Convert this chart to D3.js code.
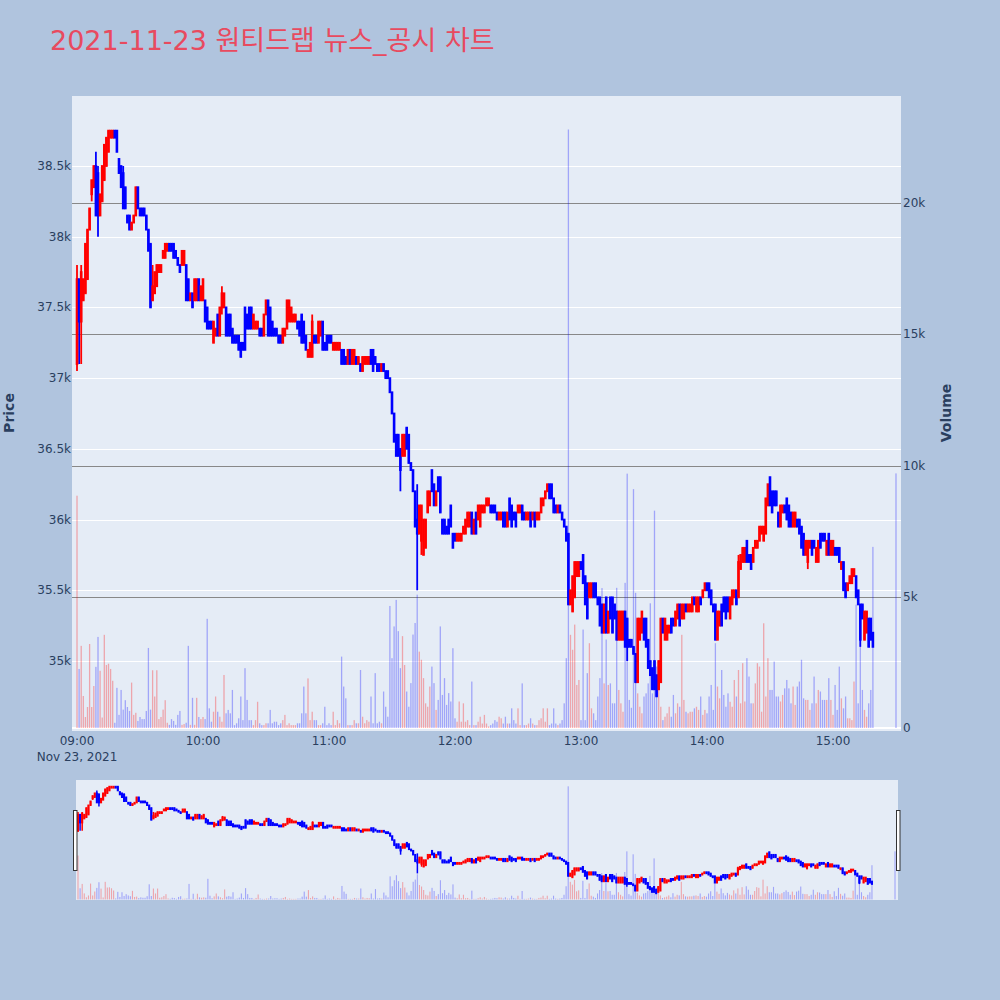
<!DOCTYPE html>
<html><head><meta charset="utf-8">
<script src="https://cdn.jsdelivr.net/npm/d3@7"></script>
<style>
body{margin:0;background:#b0c4de;}
svg{display:block;font-family:"DejaVu Sans","Noto Sans CJK KR",sans-serif;}
</style>
</head><body>
<svg id="chart" width="1000" height="1000"></svg>
<script>
// ---------- data (1-minute candles 09:00 .. 15:19, then 15:30 closing auction) ----------
const chartTitle = "2021-11-23 원티드랩 뉴스_공시 차트";
const tradeDay = "2021-11-23";
const firstMinute = "09:00";
const auctionMinute = "15:30";

const opens = [
37100,37700,37400,37550,37600,37700,38050,38300,38350,38500,
38450,38150,38250,38400,38500,38600,38700,38700,38750,38750,
38550,38500,38450,38350,38150,38150,38050,38100,38150,38350,
38200,38200,38200,38150,38050,37950,37550,37600,37650,37750,
37750,37850,37850,37900,37950,37950,37950,37900,37850,37800,
37800,37800,37800,37700,37550,37600,37550,37550,37700,37550,
37550,37550,37500,37400,37400,37250,37300,37450,37300,37500,
37500,37500,37450,37450,37350,37300,37300,37300,37250,37250,
37500,37450,37500,37500,37350,37350,37350,37350,37350,37300,
37450,37550,37500,37400,37350,37350,37300,37300,37250,37300,
37350,37400,37400,37400,37400,37400,37400,37450,37400,37300,
37150,37150,37150,37300,37300,37250,37300,37400,37250,37300,
37300,37300,37200,37200,37200,37200,37200,37200,37150,37100,
37200,37100,37100,37150,37100,37100,37050,37100,37100,37100,
37200,37200,37150,37100,37100,37050,37100,37050,37050,37000,
36900,36750,36600,36600,36500,36450,36450,36650,36600,36400,
36350,36200,36000,35900,35850,35750,35800,36050,36100,36350,
36250,36100,36300,36300,36000,36000,35950,36000,36100,35900,
35900,35850,35850,35850,35900,35900,35950,35950,36050,35900,
36050,36000,35950,36050,36050,36100,36100,36100,36100,36100,
36050,36000,36000,36050,36050,35950,36150,36100,36050,36050,
36050,36050,36100,36050,36000,36000,36050,36000,36050,36000,
36000,36050,36100,36150,36200,36250,36250,36150,36100,36050,
36100,36050,36000,35950,35900,35400,35350,35450,35600,35600,
35700,35750,35600,35550,35450,35450,35550,35550,35450,35450,
35400,35200,35450,35200,35450,35450,35400,35350,35150,35150,
35150,35350,35300,35150,35150,35100,35050,34850,35150,35200,
35300,35300,35150,35000,34950,35000,34900,34800,34850,35300,
35150,35150,35200,35300,35300,35250,35300,35400,35300,35300,
35400,35350,35350,35350,35450,35350,35350,35450,35450,35500,
35550,35550,35500,35400,35400,35150,35250,35400,35450,35450,
35450,35300,35400,35450,35500,35450,35650,35700,35700,35850,
35750,35750,35700,35800,35800,35850,35900,35850,35900,36100,
36300,36200,36200,36200,36050,35950,36050,36100,36150,36100,
36050,35950,35950,36000,36000,35950,35900,35750,35700,35800,
35850,35850,35700,35700,35900,35900,35900,35750,35900,35750,
35750,35800,35800,35800,35650,35700,35550,35500,35550,35550,
35600,35600,35500,35400,35400,35150,35200,35300,35300,35200,
35050];

const closes = [
37700,37400,37750,37700,37950,38050,38200,38400,38500,38150,
38150,38300,38500,38650,38700,38750,38750,38750,38700,38600,
38450,38350,38200,38200,38100,38050,38100,38150,38350,38200,
38150,38150,38150,38050,37900,37500,37650,37750,37800,37800,
37800,37900,37950,37950,37900,37900,37850,37850,37800,37750,
37900,37900,37550,37550,37600,37500,37700,37700,37550,37650,
37700,37400,37350,37350,37350,37400,37350,37300,37500,37600,
37600,37300,37300,37300,37250,37250,37250,37200,37150,37200,
37200,37350,37350,37350,37450,37400,37400,37300,37300,37450,
37550,37300,37300,37300,37300,37300,37250,37250,37350,37350,
37550,37550,37500,37450,37450,37350,37300,37250,37250,37200,
37200,37250,37400,37250,37250,37400,37400,37200,37200,37200,
37250,37250,37250,37250,37250,37250,37100,37100,37100,37200,
37100,37200,37200,37100,37150,37050,37150,37150,37150,37150,
37100,37050,37100,37050,37050,37100,37050,37000,37000,36900,
36750,36550,36450,36450,36350,36600,36600,36500,36400,36350,
36200,35950,35900,36100,36100,36000,36000,36200,36200,36200,
36100,36200,36200,36050,35900,35900,35900,35900,35950,35800,
35850,35900,35900,35900,35950,36000,36050,36050,35900,36000,
35900,36100,36100,36100,36100,36150,36150,36050,36050,36050,
36000,36050,36050,35950,35950,36050,36000,35950,36000,35950,
36100,36100,36000,36000,36050,36050,35950,36050,35950,36050,
36050,36150,36150,36200,36250,36150,36150,36050,36050,36100,
36050,36000,35950,35850,35400,35500,35600,35700,35700,35700,
35650,35550,35400,35300,35550,35550,35450,35450,35400,35250,
35200,35400,35200,35350,35300,35200,35300,35150,35350,35350,
35350,35100,35100,35100,35100,35050,34850,35300,35300,35350,
35150,35100,34950,34900,34800,34800,34750,35000,35300,35200,
35300,35250,35250,35200,35250,35350,35400,35250,35400,35400,
35350,35400,35400,35450,35400,35450,35450,35400,35500,35550,
35500,35450,35400,35350,35150,35350,35350,35250,35350,35300,
35350,35450,35500,35500,35400,35700,35750,35800,35800,35700,
35700,35650,35800,35850,35850,35950,35950,35950,36150,36250,
36100,36050,36100,36100,35950,36100,36100,36050,36000,35950,
35950,36050,36050,35950,35900,35800,35750,35850,35850,35850,
35750,35800,35800,35850,35800,35850,35850,35850,35750,35850,
35850,35750,35750,35700,35700,35500,35450,35550,35600,35650,
35650,35450,35400,35150,35300,35350,35350,35100,35150,35100,
35050];

// wicks that reach beyond the candle body: [candle index, price]
const wickHighs = [[0,37800],[2,37800],[9,38600],[10,38500],[22,38500],[36,37800],
  [69,37650],[112,37450],[162,36250],[315,35750]];
const wickLows = [[0,37050],[1,37100],[2,37100],[7,38250],[10,38000],[69,37450],
  [154,36200],[162,35500],[164,35750],[262,35000],[348,35650],[373,35100]];

const volumes = [
8850,2250,3130,1220,420,800,3200,800,1600,2330,
3470,2180,400,3550,2400,2450,2250,1800,200,1530,
500,1450,700,1060,800,650,1730,500,580,270,
420,340,340,650,3050,700,2200,1200,2200,340,
420,700,1060,200,120,340,270,120,500,650,
120,150,200,3130,120,1150,120,1150,420,340,
420,340,4160,750,240,620,1200,620,430,240,
2020,560,690,560,1450,110,180,370,1200,300,
2280,1070,300,300,110,300,1000,180,110,110,
180,180,690,180,240,240,110,180,300,500,
110,180,110,110,110,180,180,560,1580,560,
1890,300,620,300,300,110,110,180,810,110,
180,110,620,110,300,180,2720,1580,1130,110,
110,110,300,180,180,2210,430,180,300,240,
1200,180,2090,180,240,180,1390,810,430,4650,
2660,3870,4880,3690,2280,3500,2400,1390,810,1710,
3560,4000,5080,2910,2600,1900,940,810,1580,2340,
1710,690,1070,3870,1260,1900,880,1330,1010,3040,
370,240,1010,240,940,240,300,110,1770,110,
110,240,430,170,500,170,60,110,170,300,
240,430,370,170,430,170,170,750,300,170,
750,110,1700,110,110,170,370,170,110,110,
300,370,750,240,750,110,170,750,170,110,
170,300,940,2660,22800,3550,2980,3940,1640,1830,
300,3750,300,2090,3230,750,560,300,1200,1900,
5330,1700,3370,1640,1700,940,940,5340,1450,940,
620,5530,9690,1070,770,9100,5150,1320,810,560,
1200,1320,1700,4750,1320,8280,2340,1580,810,300,
430,560,810,430,1260,560,940,810,3550,1070,
620,560,620,620,750,810,690,1200,500,690,
560,1200,1640,690,3230,1580,1130,2210,1260,810,
1320,1000,810,1830,1200,2210,940,2470,1010,2660,
1960,940,940,1700,2470,2340,620,3990,1200,2660,
1450,1450,2530,1200,1200,1010,1260,1510,1830,1510,
940,1580,880,1580,1770,2600,1130,1070,1070,690,
940,1960,940,1450,1390,1070,1070,1070,1900,1070,
500,1640,690,2340,1130,750,1200,370,370,300,
1770,4700,940,4100,1450,690,430,940,1450,6900,
9700];

const priceTicks = [35000,35500,36000,36500,37000,37500,38000,38500];
const priceTickLabels = ["35k","35.5k","36k","36.5k","37k","37.5k","38k","38.5k"];
const volumeTicks = [0,5000,10000,15000,20000];
const volumeTickLabels = ["0","5k","10k","15k","20k"];
const timeTicks = ["09:00","10:00","11:00","12:00","13:00","14:00","15:00"];
const dateLabel = "Nov 23, 2021";
const priceRange = [34505, 38995];
const volumeRange = [-114, 24076];
const timeRange = ["08:57:37","15:32:23"];

// ---------- build records ----------
const parseM = d3.timeParse("%Y-%m-%d %H:%M");
const parseS = d3.timeParse("%Y-%m-%d %H:%M:%S");
const start = parseM(tradeDay + " " + firstMinute);
const hiMap = new Map(wickHighs), loMap = new Map(wickLows);
const candles = closes.map((c, i) => {
  const o = opens[i];
  const t = i < closes.length - 1 ? d3.timeMinute.offset(start, i) : parseM(tradeDay + " " + auctionMinute);
  return {t, o, c, h: hiMap.has(i) ? hiMap.get(i) : Math.max(o, c),
          l: loMap.has(i) ? loMap.get(i) : Math.min(o, c), v: volumes[i], up: c > o};
});

const UP = "#ff0000", DOWN = "#0000ff", TXT = "#2a3f5f";
const svg = d3.select("#chart");
svg.append("rect").attr("width",1000).attr("height",1000).attr("fill","#b0c4de");

const P = {l:72, r:901, t:96, b:731};
const xDom = timeRange.map(s => parseS(tradeDay + " " + s));
const x = d3.scaleTime().domain(xDom).range([P.l, P.r]);
const yP = d3.scaleLinear().domain(priceRange).range([P.b, P.t]);
const yV = d3.scaleLinear().domain(volumeRange).range([P.b, P.t]);

// title
svg.append("text").attr("x",50).attr("y",50).attr("font-size",27).attr("fill","#e84a5f").text(chartTitle);

// plot bg
svg.append("rect").attr("x",P.l).attr("y",P.t).attr("width",P.r-P.l).attr("height",P.b-P.t).attr("fill","#e5ecf6");

// grids
const g = svg.append("g");
g.selectAll(".pg").data(priceTicks).join("line")
  .attr("x1",P.l).attr("x2",P.r).attr("y1",d=>Math.round(yP(d))+0.5).attr("y2",d=>Math.round(yP(d))+0.5)
  .attr("stroke","#ffffff").attr("stroke-width",1);
g.selectAll(".vg").data(volumeTicks.filter(d=>d>0)).join("line")
  .attr("x1",P.l).attr("x2",P.r).attr("y1",d=>Math.round(yV(d))+0.5).attr("y2",d=>Math.round(yV(d))+0.5)
  .attr("stroke","#888888").attr("stroke-width",1);
g.append("line").attr("x1",P.l).attr("x2",P.r).attr("y1",yV(0)).attr("y2",yV(0))
  .attr("stroke","#ffffff").attr("stroke-width",2);

function drawCandles(sel, xs, ys, lw, bw) {
  const cg = sel.append("g");
  cg.selectAll("line").data(candles).join("line")
    .attr("x1",d=>xs(d.t)).attr("x2",d=>xs(d.t))
    .attr("y1",d=>ys(d.h)).attr("y2",d=>ys(d.l))
    .attr("stroke",d=>d.up?UP:DOWN).attr("stroke-width",lw);
  cg.selectAll("rect").data(candles).join("rect")
    .attr("x",d=>xs(d.t)-bw/2).attr("width",bw)
    .attr("y",d=>ys(Math.max(d.o,d.c))).attr("height",d=>Math.abs(ys(d.o)-ys(d.c)))
    .attr("fill",d=>d.up?UP:DOWN).attr("stroke",d=>d.up?UP:DOWN).attr("stroke-width",lw);
}
function drawVolume(sel, xs, ys, w, op) {
  sel.append("g").selectAll("rect").data(candles).join("rect")
    .attr("x",d=>xs(d.t)-w/2).attr("width",w)
    .attr("y",d=>ys(d.v)).attr("height",d=>ys(0)-ys(d.v))
    .attr("fill",d=>d.up?UP:DOWN).attr("fill-opacity",op);
}

const main = svg.append("g");
drawCandles(main, x, yP, 1.8, 0.8);
drawVolume(main, x, yV, 1.3, 0.3);

// axes text
const ax = svg.append("g").attr("fill",TXT).attr("font-size",12);
ax.selectAll(".pl").data(priceTicks).join("text")
  .attr("x",P.l-1).attr("y",d=>yP(d)+4).attr("text-anchor","end").text((d,i)=>priceTickLabels[i]);
ax.selectAll(".vl").data(volumeTicks).join("text")
  .attr("x",P.r+2).attr("y",d=>yV(d)+4).attr("text-anchor","start").text((d,i)=>volumeTickLabels[i]);
ax.selectAll(".tl").data(timeTicks).join("text")
  .attr("x",d=>x(parseM(tradeDay+" "+d))).attr("y",745).attr("text-anchor","middle").text(d=>d);
ax.append("text").attr("x",x(parseM(tradeDay+" "+timeTicks[0]))).attr("y",761).attr("text-anchor","middle").text(dateLabel);
ax.append("text").attr("transform","translate(14,413) rotate(-90)").attr("text-anchor","middle")
  .attr("font-size",14).attr("font-weight","bold").text("Price");
ax.append("text").attr("transform","translate(951,413) rotate(-90)").attr("text-anchor","middle")
  .attr("font-size",14).attr("font-weight","bold").text("Volume");

// range slider
const S = {l:76, r:898, t:780, b:900};
const xs = d3.scaleTime().domain(xDom).range([S.l-3, S.r+2]);
const ysP = d3.scaleLinear().domain(priceRange).range([S.b, S.t]);
const ysV = d3.scaleLinear().domain(volumeRange).range([S.b, S.t]);
svg.append("rect").attr("x",S.l).attr("y",S.t).attr("width",S.r-S.l).attr("height",S.b-S.t).attr("fill","#e5ecf6");
const sl = svg.append("g");
sl.append("clipPath").attr("id","sc").append("rect").attr("x",S.l).attr("y",S.t).attr("width",S.r-S.l).attr("height",S.b-S.t);
const slc = sl.append("g").attr("clip-path","url(#sc)");
drawCandles(slc, xs, ysP, 1.5, 0.6);
drawVolume(slc, xs, ysV, 1.1, 0.3);
[[73.5],[896.5]].forEach(([hx]) => {
  svg.append("rect").attr("x",hx).attr("y",810.5).attr("width",3.5).attr("height",60)
    .attr("fill","#ffffff").attr("stroke","#333333").attr("stroke-width",1);
});
</script>
</body></html>
